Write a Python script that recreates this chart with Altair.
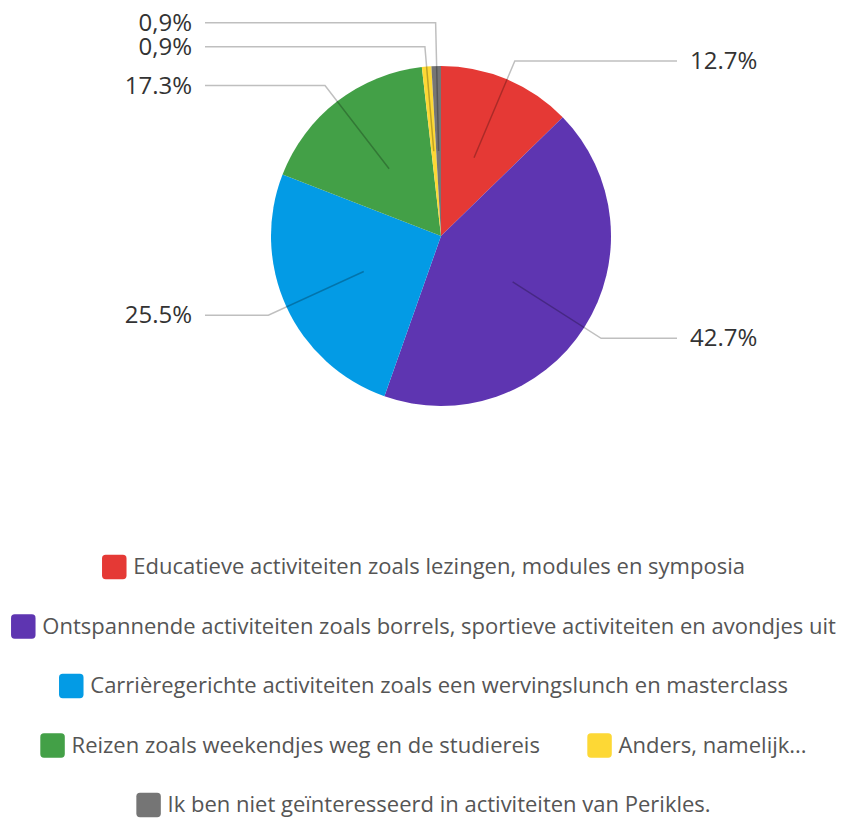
import math
import altair as alt
import pandas as pd

# ---------------- data ----------------
categories = [
    "Educatieve activiteiten zoals lezingen, modules en symposia",
    "Ontspannende activiteiten zoals borrels, sportieve activiteiten en avondjes uit",
    "Carrièregerichte activiteiten zoals een wervingslunch en masterclass",
    "Reizen zoals weekendjes weg en de studiereis",
    "Anders, namelijk...",
    "Ik ben niet geïnteresseerd in activiteiten van Perikles.",
]
values = [12.7, 42.7, 25.5, 17.3, 0.9, 0.9]
labels = ["12.7%", "42.7%", "25.5%", "17.3%", "0,9%", "0,9%"]
colors = ["#E53935", "#5E35B1", "#039BE5", "#43A047", "#FDD835", "#757575"]
legend_rows = [[0], [1], [2], [3, 4], [5]]

# ---------------- layout ----------------
W, H = 831, 509          # pie panel size
CX, CY = 433, 228        # pie centre inside the panel
R = 170                  # pie radius
R_IN, R_EL = 85, 190     # leader line start / elbow radius
X_END, X_LAB = 236, 249  # end of horizontal leader / label anchor
GAP = 24                 # minimal vertical distance between labels
FONT = "Open Sans"

total = sum(values)
rows = []
cum = 0.0
for i, (c, v, lab) in enumerate(zip(categories, values, labels)):
    mid = (cum + v / 2) / total * 2 * math.pi
    cum += v
    side = 1 if math.sin(mid) >= 0 else -1
    rows.append(dict(idx=i, cat=c, value=v, label=lab, mid=mid, side=side,
                     ly=R_EL * math.cos(mid)))
# resolve label collisions per side
for s in (1, -1):
    sel = sorted([r for r in rows if r["side"] == s], key=lambda r: r["ly"])
    for a, b in zip(sel, sel[1:]):
        if b["ly"] < a["ly"] + GAP:
            b["ly"] = a["ly"] + GAP
for r in rows:
    r["lx"] = r["side"] * X_LAB

df = pd.DataFrame(rows)

pts = []
for r in rows:
    pts.append(dict(cat=r["cat"], pt=0, px=R_IN * math.sin(r["mid"]), py=R_IN * math.cos(r["mid"])))
    pts.append(dict(cat=r["cat"], pt=1, px=R_EL * math.sin(r["mid"]), py=r["ly"]))
    pts.append(dict(cat=r["cat"], pt=2, px=r["side"] * X_END, py=r["ly"]))
lines_df = pd.DataFrame(pts)

xs = alt.Scale(domain=[-CX, W - CX], nice=False, zero=False)
ys = alt.Scale(domain=[-(H - CY), CY], nice=False, zero=False)

pie = alt.Chart(df).mark_arc(outerRadius=R).encode(
    theta=alt.Theta("value:Q", stack=True),
    color=alt.Color("cat:N", scale=alt.Scale(domain=categories, range=colors), legend=None),
    order=alt.Order("idx:Q"),
    x=alt.X(datum=0, type="quantitative", scale=xs, axis=None),
    y=alt.Y(datum=0, type="quantitative", scale=ys, axis=None),
)

leaders = alt.Chart(lines_df).mark_line(stroke="#000000", strokeOpacity=0.25, strokeWidth=1.5).encode(
    x=alt.X("px:Q", scale=xs, axis=None),
    y=alt.Y("py:Q", scale=ys, axis=None),
    detail="cat:N",
    order="pt:Q",
)

def lab_layer(side, align):
    return alt.Chart(df).transform_filter(alt.datum.side == side).mark_text(
        align=align, baseline="middle", dy=1, fontSize=24, font=FONT, color="#333333"
    ).encode(
        x=alt.X("lx:Q", scale=xs, axis=None),
        y=alt.Y("ly:Q", scale=ys, axis=None),
        text="label:N",
    )

pie_panel = alt.layer(pie, leaders, lab_layer(1, "left"), lab_layer(-1, "right")).properties(width=W, height=H)

# ---------------- legend ----------------
SWATCH = "M -1 -0.7 Q -1 -1 -0.7 -1 L 0.7 -1 Q 1 -1 1 -0.7 L 1 0.7 Q 1 1 0.7 1 L -0.7 1 Q -1 1 -1 0.7 Z"

def legend_item(i):
    d = pd.DataFrame({"cat": [categories[i]], "color": [colors[i]]})
    sw = alt.Chart(d).mark_point(shape=SWATCH, filled=True, size=600, opacity=1).encode(
        x=alt.value(12), y=alt.value(13), color=alt.Color("color:N", scale=None)
    )
    tx = alt.Chart(d).mark_text(align="left", baseline="middle", fontSize=22, font=FONT, color="#555555").encode(
        x=alt.value(31), y=alt.value(13), text="cat:N"
    )
    return alt.layer(sw, tx).properties(width=24, height=26)

leg_rows = []
for r in legend_rows:
    if len(r) == 1:
        leg_rows.append(legend_item(r[0]))
    else:
        leg_rows.append(alt.hconcat(*[legend_item(i) for i in r], spacing=46))
legend = alt.vconcat(*leg_rows, spacing=33.5, center=True)

chart = alt.vconcat(pie_panel, legend, spacing=37, center=True).properties(
    padding={"left": 0, "top": 0, "right": 0, "bottom": 0}
).configure_view(stroke=None)

chart.save("out.html", embed_options={"renderer": "svg", "actions": False})
